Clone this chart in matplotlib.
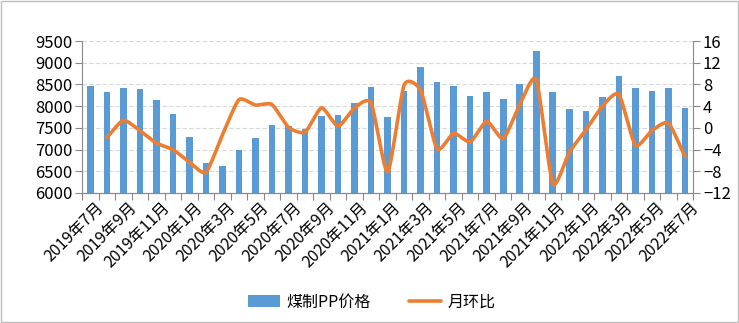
import numpy as np
import matplotlib
matplotlib.use('Agg')
import matplotlib.pyplot as plt
from matplotlib.patches import Rectangle

plt.rcParams['font.family'] = ['Noto Sans CJK SC', 'DejaVu Sans']

# monthly labels 2019-07 .. 2022-07
months = []
for y in range(2019, 2023):
    for m in range(1, 13):
        if (y == 2019 and m < 7) or (y == 2022 and m > 7):
            continue
        months.append(f'{y}年{m}月')

price = [8460, 8320, 8410, 8390, 8135, 7810, 7300, 6700, 6630, 6990, 7265, 7555,
         7550, 7480, 7765, 7790, 8065, 8435, 7740, 8345, 8900, 8550, 8460, 8230,
         8320, 8160, 8505, 9270, 8320, 7925, 7880, 8205, 8690, 8410, 8345, 8410,
         7950]
# 月环比 starts from 2019-08
mom = [-1.8, 1.4, -0.5, -2.8, -4.0, -6.3, -8.2, -1.3, 5.2, 4.2, 4.3,
       0.1, -0.8, 3.7, 0.3, 3.7, 4.6, -8.2, 7.9, 6.9, -3.9, -1.0, -2.6,
       1.2, -2.0, 4.3, 8.9, -10.3, -4.5, -0.4, 4.0, 6.2, -3.2, -0.5, 0.9,
       -5.3]

blue = '#5B9BD5'
orange = '#ED7D31'
grey = '#898989'

x = np.arange(len(months))
xm = x[1:]


def smooth(px, py, k=0.6, n=20):
    # cardinal spline through the points (Excel-like smoothed line)
    P = np.column_stack([px, py]).astype(float)
    P = np.vstack([2 * P[0] - P[1], P, 2 * P[-1] - P[-2]])
    out = []
    for i in range(1, len(P) - 2):
        p1, p2 = P[i], P[i + 1]
        m1 = k * (P[i + 1] - P[i - 1]) / 2
        m2 = k * (P[i + 2] - P[i]) / 2
        t = np.linspace(0, 1, n, endpoint=False)[:, None]
        h00 = 2 * t ** 3 - 3 * t ** 2 + 1
        h10 = t ** 3 - 2 * t ** 2 + t
        h01 = -2 * t ** 3 + 3 * t ** 2
        h11 = t ** 3 - t ** 2
        out.append(h00 * p1 + h10 * m1 + h01 * p2 + h11 * m2)
    out.append(P[-2][None, :])
    out = np.vstack(out)
    return out[:, 0], out[:, 1]


fig = plt.figure(figsize=(7.39, 3.23), dpi=100)
ax = fig.add_axes([0.111, 0.4025, 0.827, 0.4705])
ax2 = ax.twinx()

ax.bar(x, price, width=0.4, color=blue, zorder=2, label='煤制PP价格')
ax.set_ylim(6000, 9500)
ax.set_yticks(np.arange(6000, 9501, 500))
ax.set_xlim(-0.5, len(months) - 0.5)
ax.grid(axis='y', color='#D9D9D9', linestyle=(0, (4, 2)), linewidth=0.8, zorder=0)
ax.set_axisbelow(True)

sx, sy = smooth(xm, mom)
ax2.plot(sx, sy, color=orange, linewidth=2.6, solid_capstyle='round', label='月环比')
ax2.set_ylim(-12, 16)
ax2.set_yticks(np.arange(-12, 17, 4))

# ticks between categories, labels every other month
ax.set_xticks(np.arange(-0.5, len(months), 1))
ax.set_xticklabels([])
ax.tick_params(axis='x', length=5, color=grey, direction='out')
for i in range(0, len(months), 2):
    ax.text(i + 0.3, 5850, months[i], rotation=45, ha='right', va='top',
            rotation_mode='anchor', fontsize=11.5)

for a in (ax, ax2):
    a.spines['top'].set_visible(False)
    for s in ('left', 'right', 'bottom'):
        a.spines[s].set_color(grey)
    a.tick_params(axis='y', length=5, color=grey, labelsize=12, pad=2)
ax.spines['right'].set_visible(False)
ax2.spines['left'].set_visible(False)

h1, l1 = ax.get_legend_handles_labels()
h2, l2 = ax2.get_legend_handles_labels()
fig.legend(h1 + h2, l1 + l2, loc='center', bbox_to_anchor=(0.503, 0.065), ncol=2,
           frameon=False, fontsize=11.5, columnspacing=2.4, handlelength=2.0,
           handletextpad=0.4)

fig.patches.append(Rectangle((0.001, 0.002), 0.997, 0.995, transform=fig.transFigure,
                             fill=False, edgecolor='#BFBFBF', linewidth=1))

fig.savefig('out.png', dpi=100)
